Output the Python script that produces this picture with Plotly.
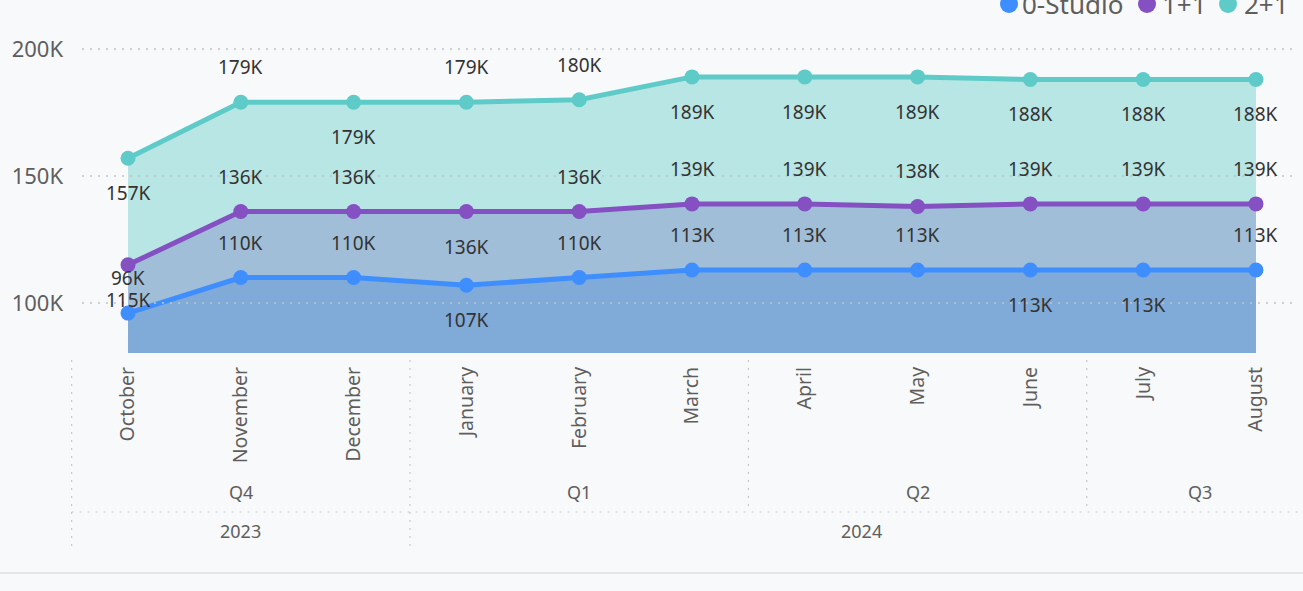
import plotly.graph_objects as go

# ---------------- data ----------------
months = ["October", "November", "December", "January", "February", "March",
          "April", "May", "June", "July", "August"]
quarters = ["Q4", "Q4", "Q4", "Q1", "Q1", "Q1", "Q2", "Q2", "Q2", "Q3", "Q3"]
years = ["2023", "2023", "2023", "2024", "2024", "2024", "2024", "2024", "2024", "2024", "2024"]

studio = [96000, 110000, 110000, 107000, 110000, 113000, 113000, 113000, 113000, 113000, 113000]
one_one = [115000, 136000, 136000, 136000, 136000, 139000, 139000, 138000, 139000, 139000, 139000]
two_one = [157000, 179000, 179000, 179000, 180000, 189000, 189000, 189000, 188000, 188000, 188000]

series_names = ["0-Studio", "1+1", "2+1"]
y_ticks = [100000, 150000, 200000]

# label placement (1 = above, -1 = below)
place_studio = [1, 1, 1, -1, 1, 1, 1, 1, -1, -1, 1]
place_one = [-1, 1, 1, -1, 1, 1, 1, 1, 1, 1, 1]
place_two = [-1, 1, -1, 1, 1, -1, -1, -1, -1, -1, -1]

# ---------------- style ----------------
W, H = 1303, 591
ML, MR, MT, MB = 82, 8, 35, 238
PW, PH = W - ML - MR, H - MT - MB
FONT = "Noto Sans"
BG = "#F8F9FB"
line_colors = ["#3F8EFF", "#8450C2", "#5ECBC8"]
fill_colors = ["#80AAD8", "#A0BED8", "#B8E6E4"]
XR = [-0.408, 10.346]
YR = [80300, 205500]


def px_x(px):
    return (px - ML) / PW


def px_y(py):
    return (MT + PH - py) / PH


def data_x(v):
    return (v - XR[0]) / (XR[1] - XR[0])


xs = list(range(len(months)))
fig = go.Figure()
all_series = [studio, one_one, two_one]
for k, (name, vals) in enumerate(zip(series_names, all_series)):
    fig.add_trace(go.Scatter(
        x=xs, y=vals, name=name, mode="lines+markers",
        line=dict(color=line_colors[k], width=5),
        marker=dict(color=line_colors[k], size=15),
        fill="tozeroy" if k == 0 else "tonexty",
        fillcolor=fill_colors[k],
        showlegend=False,
        hoverinfo="skip",
    ))

annotations = []
for vals, places in zip(all_series, [place_studio, place_one, place_two]):
    for i, (v, p) in enumerate(zip(vals, places)):
        annotations.append(dict(
            x=i, y=v, xref="x", yref="y", text=f"{v / 1000:.0f}K",
            showarrow=False, yshift=35 * p,
            font=dict(family=FONT, size=19, color="#333333"),
        ))


def groups(labels):
    out = []
    start = 0
    for i in range(1, len(labels) + 1):
        if i == len(labels) or labels[i] != labels[start]:
            out.append((labels[start], start, i - 1))
            start = i
    return out


shapes = []
dot = "2px,6px"
sep_col = "#C8C8C8"
for lab, a, b in groups(quarters):
    annotations.append(dict(x=data_x((a + b) / 2), y=px_y(492), xref="paper", yref="paper",
                            text=lab, showarrow=False, xanchor="center", yanchor="middle",
                            font=dict(family=FONT, size=18, color="#605E5C")))
    shapes.append(dict(type="line", xref="paper", yref="paper",
                       x0=data_x(a - 0.5), x1=data_x(a - 0.5), y0=px_y(360), y1=px_y(508),
                       line=dict(color=sep_col, width=1.2, dash=dot)))
for lab, a, b in groups(years):
    annotations.append(dict(x=data_x((a + b) / 2), y=px_y(531), xref="paper", yref="paper",
                            text=lab, showarrow=False, xanchor="center", yanchor="middle",
                            font=dict(family=FONT, size=18, color="#605E5C")))
    shapes.append(dict(type="line", xref="paper", yref="paper",
                       x0=data_x(a - 0.5), x1=data_x(a - 0.5), y0=px_y(512), y1=px_y(552),
                       line=dict(color=sep_col, width=1.2, dash=dot)))
shapes.append(dict(type="line", xref="paper", yref="paper",
                   x0=data_x(-0.5), x1=px_x(W), y0=px_y(512), y1=px_y(512),
                   line=dict(color=sep_col, width=1.2, dash=dot)))
shapes.append(dict(type="line", xref="paper", yref="paper",
                   x0=px_x(0), x1=px_x(W), y0=px_y(573), y1=px_y(573),
                   line=dict(color="#E4E5E7", width=2)))

for t in y_ticks:
    shapes.append(dict(type="line", xref="paper", yref="y", x0=0, x1=1, y0=t, y1=t,
                       layer="above", line=dict(color="#C4C4C4", width=1.5, dash=dot)))

legend_pos = [(1009, 1020), (1147, 1160), (1228, 1242)]
for k, name in enumerate(series_names):
    cx, tx = legend_pos[k]
    shapes.append(dict(type="circle", xref="paper", yref="paper",
                       xsizemode="pixel", ysizemode="pixel",
                       xanchor=px_x(cx), yanchor=px_y(4),
                       x0=-9, x1=9, y0=-9, y1=9,
                       fillcolor=line_colors[k], line=dict(width=0)))
    annotations.append(dict(x=px_x(tx), y=px_y(4), xref="paper", yref="paper",
                            text=name, showarrow=False, xanchor="left", yanchor="middle",
                            font=dict(family=FONT, size=26, color="#605E5C")))

fig.update_layout(
    width=W, height=H, autosize=False,
    margin=dict(l=ML, r=MR, t=MT, b=MB),
    paper_bgcolor=BG, plot_bgcolor=BG,
    annotations=annotations, shapes=shapes,
    showlegend=False,
    xaxis=dict(range=XR, tickvals=xs, ticktext=months, tickangle=-90,
               showgrid=False, zeroline=False, showline=False, ticks="",
               ticklabelstandoff=9,
               tickfont=dict(family=FONT, size=19.5, color="#605E5C")),
    yaxis=dict(range=YR, tickvals=y_ticks, ticktext=[f"{t // 1000}K" for t in y_ticks],
               showgrid=False, zeroline=False, showline=False, ticks="",
               ticklabelstandoff=18,
               tickfont=dict(family=FONT, size=22, color="#605E5C")),
)

fig.write_html(
    "out.html",
    config={"displayModeBar": False},
    post_script="document.body.style.margin='0';document.body.style.background='%s';" % BG,
)
